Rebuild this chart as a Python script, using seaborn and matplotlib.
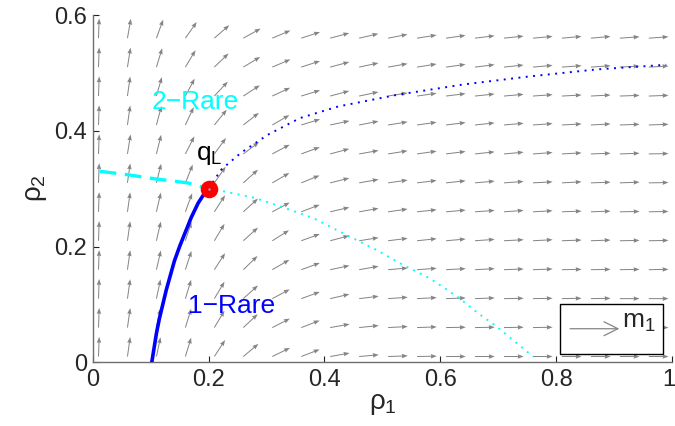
import matplotlib
matplotlib.use("Agg")
import numpy as np
import pandas as pd
import matplotlib.pyplot as plt
import matplotlib.transforms as mtransforms
import seaborn as sns
from matplotlib.patches import Rectangle

# ---- grid of the direction field (rho1 columns, rho2 rows) ----
rho1_grid = [0.01, 0.06, 0.11, 0.16, 0.21, 0.26, 0.31, 0.36, 0.41, 0.46,
             0.51, 0.56, 0.61, 0.66, 0.71, 0.76, 0.81, 0.86, 0.91, 0.96]
rho2_grid = [0.01, 0.06, 0.11, 0.16, 0.21, 0.26, 0.31, 0.36, 0.41, 0.46, 0.51, 0.56]

# direction of the eigenvector field m1 (degrees), one row per rho2 value (bottom to top)
m1_angle_deg = [
    [88, 82, 78, 73, 57, 40, 26, 21, 10, 5, 2, 1, 0, 0, 0, 0, 0, 0, 0, 0],   # 0.01
    [88, 82, 78, 73, 59, 43, 27, 21, 10, 6, 3, 2, 1, 1, 1, 1, 0, 0, 0, 0],   # 0.06
    [88, 82, 78, 73, 59, 42, 28, 20, 13, 7, 4, 3, 2, 2, 1, 1, 1, 1, 0, 0],   # 0.11
    [88, 82, 77, 72, 57, 44, 30, 20, 12, 10, 5, 4, 3, 3, 2, 2, 1, 1, 1, 1],  # 0.16
    [88, 82, 77, 72, 59, 42, 32, 20, 15, 9, 7, 6, 5, 4, 3, 3, 2, 2, 1, 1],   # 0.21
    [88, 82, 77, 70, 57, 42, 28, 21, 13, 10, 8, 6, 5, 4, 4, 3, 2, 2, 1, 1],  # 0.26
    [88, 82, 76, 68, 55, 42, 30, 22, 14, 10, 8, 7, 6, 5, 4, 3, 3, 2, 2, 1],  # 0.31
    [88, 81, 76, 63, 54, 37, 28, 20, 15, 10, 9, 8, 7, 6, 5, 4, 3, 2, 2, 1],  # 0.36
    [88, 82, 75, 65, 51, 38, 30, 17, 12, 11, 9, 8, 7, 6, 5, 4, 3, 3, 2, 2],  # 0.41
    [88, 82, 74, 62, 47, 33, 25, 17, 15, 12, 9, 8, 7, 6, 5, 4, 3, 3, 2, 2],  # 0.46
    [88, 81, 73, 59, 44, 31, 23, 18, 15, 12, 10, 9, 8, 7, 6, 5, 4, 4, 3, 3], # 0.51
    [88, 80, 70, 55, 41, 29, 23, 18, 15, 13, 11, 9, 8, 7, 6, 5, 5, 5, 4, 4], # 0.56
]

# ---- wave curves through the left state q_L ----
rare1_rho1 = [0.102, 0.106, 0.110, 0.115, 0.121, 0.127, 0.134, 0.141, 0.150,
              0.160, 0.170, 0.182, 0.193, 0.200]
rare1_rho2 = [0.000, 0.025, 0.050, 0.075, 0.100, 0.125, 0.150, 0.175, 0.200,
              0.225, 0.250, 0.275, 0.292, 0.300]

rare2_rho1 = [0.012, 0.061, 0.107, 0.164, 0.200]
rare2_rho2 = [0.330, 0.324, 0.317, 0.310, 0.300]

rare1_ext_rho1 = [0.200, 0.222, 0.256, 0.302, 0.358, 0.424, 0.525, 0.640, 0.755, 0.870, 0.990]
rare1_ext_rho2 = [0.300, 0.333, 0.362, 0.393, 0.422, 0.442, 0.462, 0.480, 0.494, 0.506, 0.514]

rare2_ext_rho1 = [0.200, 0.228, 0.280, 0.325, 0.381, 0.438, 0.490, 0.536, 0.582, 0.630,
                  0.665, 0.697, 0.760]
rare2_ext_rho2 = [0.300, 0.295, 0.284, 0.269, 0.249, 0.220, 0.194, 0.168, 0.145, 0.113,
                  0.085, 0.062, 0.010]

qL = (0.2, 0.3)

x_ticks = [0, 0.2, 0.4, 0.6, 0.8, 1]
x_tick_labels = ["0", "0.2", "0.4", "0.6", "0.8", "1"]
y_ticks = [0, 0.2, 0.4, 0.6]
y_tick_labels = ["0", "0.2", "0.4", "0.6"]

# ---- style ----
sns.set_style("ticks")
plt.rcParams["font.family"] = ["Liberation Sans", "DejaVu Sans"]
plt.rcParams["mathtext.fontset"] = "custom"
plt.rcParams["mathtext.rm"] = "Liberation Sans"
plt.rcParams["mathtext.it"] = "Liberation Sans"
plt.rcParams["mathtext.sf"] = "Liberation Sans"

W, H = 675, 426
fig = plt.figure(figsize=(W / 100, H / 100), dpi=100)
ax = fig.add_axes([92.7 / W, (H - 362.3) / H, (672 - 92.7) / W, (362.3 - 15) / H])

# direction field, unit-length arrows
ARROW_LEN = 0.034
field = pd.DataFrame(
    [(x, y, a) for y, row in zip(rho2_grid, m1_angle_deg) for x, a in zip(rho1_grid, row)],
    columns=["rho1", "rho2", "angle"],
)
theta = np.deg2rad(field["angle"].to_numpy())
ax.quiver(field["rho1"], field["rho2"], ARROW_LEN * np.cos(theta), ARROW_LEN * np.sin(theta),
          angles="xy", scale_units="xy", scale=1, color="#858585",
          units="dots", width=1.0, headwidth=4.5, headlength=6, headaxislength=5.5, zorder=1)

# wave curves
sns.lineplot(x=rare1_rho1, y=rare1_rho2, ax=ax, color="#0000ff", lw=2.6, sort=False,
             estimator=None, zorder=3)
sns.lineplot(x=rare2_rho1, y=rare2_rho2, ax=ax, color="#00ffff", lw=2.4, sort=False,
             estimator=None, zorder=3)
ax.lines[-1].set_dashes((5, 2.6))
sns.lineplot(x=rare1_ext_rho1, y=rare1_ext_rho2, ax=ax, color="#0000ff", lw=1.4, sort=False,
             estimator=None, zorder=3)
ax.lines[-1].set_dashes((1, 2.8))
sns.lineplot(x=rare2_ext_rho1, y=rare2_ext_rho2, ax=ax, color="#00ffff", lw=1.4, sort=False,
             estimator=None, zorder=3)
ax.lines[-1].set_dashes((1, 2.8))

# left state
sns.scatterplot(x=[qL[0]], y=[qL[1]], ax=ax, s=160, color="red", edgecolor="red",
                linewidth=0, zorder=5)
sns.scatterplot(x=[qL[0]], y=[qL[1]], ax=ax, s=3, color="#33ccff", linewidth=0, zorder=6)

# labels
ax.text(0.177, 0.449, "2\u2212Rare", color="#00ffff", fontsize=19, ha="center", va="center")
ax.text(0.239, 0.097, "1\u2212Rare", color="#0000ff", fontsize=19, ha="center", va="center")
ax.text(0.178, 0.350, r"$\mathrm{q}_\mathrm{L}$", color="black", fontsize=19,
        ha="left", va="baseline")

# scale box for the field
ax.add_patch(Rectangle((0.806, 0.0138), 0.178, 0.0866, facecolor="white",
                       edgecolor="black", lw=1.0, zorder=7))
ax.annotate("", xy=(0.909, 0.058), xytext=(0.824, 0.058),
            arrowprops=dict(arrowstyle="->", color="#858585", lw=0.9,
                            mutation_scale=25, shrinkA=0, shrinkB=0), zorder=8)
ax.text(0.914, 0.059, r"$\mathrm{m}_1$", fontsize=19, ha="left", va="baseline", zorder=9)

# axes
ax.set_xlim(0, 1)
ax.set_ylim(0, 0.6)
ax.set_xticks(x_ticks)
ax.set_xticklabels(x_tick_labels)
ax.set_yticks(y_ticks)
ax.set_yticklabels(y_tick_labels)
ax.tick_params(direction="in", length=4.5, width=0.8, labelsize=17, color="#222222")
ax.tick_params(axis="x", pad=5)
ax.tick_params(axis="y", pad=4)
# keep the last x label inside the figure
last = ax.get_xticklabels()[-1]
last.set_transform(last.get_transform() + mtransforms.ScaledTranslation(-3 / 100, 0, fig.dpi_scale_trans))
ax.set_xlabel(r"$\rho_1$", fontsize=20, labelpad=0)
ax.set_ylabel(r"$\rho_2$", fontsize=20, labelpad=4)
for side in ("top", "right"):
    ax.spines[side].set_visible(False)
for side in ("left", "bottom"):
    ax.spines[side].set_color("#6e6e6e")
    ax.spines[side].set_linewidth(1.0)

fig.savefig("out.png", dpi=100)
